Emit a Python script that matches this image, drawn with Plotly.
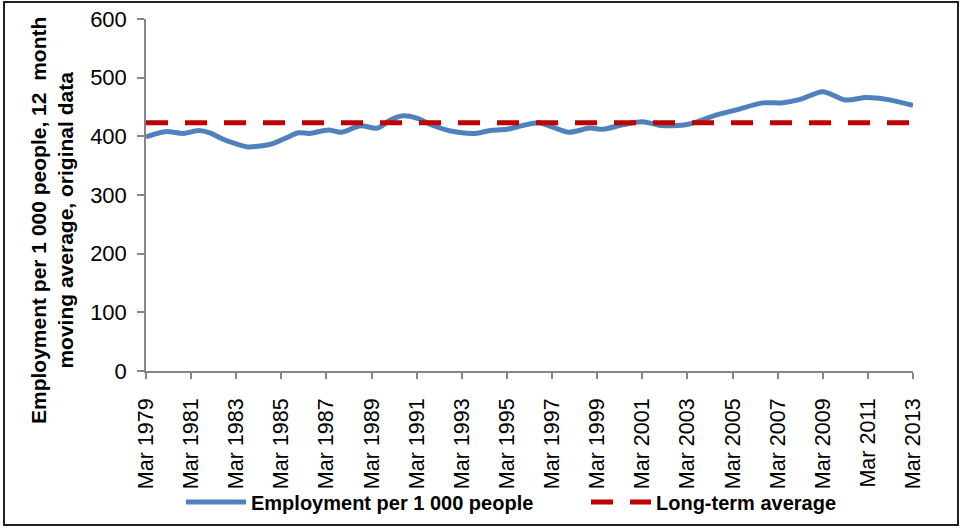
import plotly.graph_objects as go

# ---- data ----
dates = ["1979-03-01", "1980-01-01", "1980-11-01", "1981-07-01", "1982-01-01", "1982-08-01",
         "1983-03-01", "1983-09-01", "1984-05-01", "1984-10-01", "1985-06-01", "1985-12-01",
         "1986-06-01", "1987-04-01", "1987-11-01", "1988-09-01", "1989-06-01", "1990-01-01",
         "1990-08-01", "1991-03-01", "1991-12-01", "1992-09-01", "1993-10-01", "1994-06-01",
         "1995-03-01", "1995-12-01", "1996-08-01", "1997-03-01", "1997-12-01", "1998-11-01",
         "1999-06-01", "2000-05-01", "2001-03-01", "2001-12-01", "2002-07-01", "2003-04-01",
         "2004-07-01", "2005-05-01", "2006-07-01", "2007-05-01", "2008-03-01", "2009-03-01",
         "2010-03-01", "2011-02-01", "2012-01-01", "2013-03-01"]
employment = [399, 408, 405, 410, 406, 395,
              387, 382, 384, 387, 398, 406,
              405, 411, 407, 418, 414, 428,
              435, 431, 418, 409, 405, 410,
              412, 419, 423, 416, 407, 414,
              412, 420, 425, 419, 418, 421,
              437, 445, 457, 457, 463, 476,
              462, 466, 463, 453]
long_term_average = 423
tick_years = list(range(1979, 2014, 2))
tick_vals = [f"{y}-03-01" for y in tick_years]
tick_text = [f"Mar {y}" for y in tick_years]
y_title = "Employment per 1 000 people, 12  month<br>moving average, original data"

fig = go.Figure()
fig.add_trace(go.Scatter(
    x=dates, y=employment, mode="lines", name="Employment per 1 000 people",
    line=dict(color="#4F81BD", width=5, shape="spline", smoothing=0.8), legend="legend"))
fig.add_trace(go.Scatter(
    x=[dates[0], dates[-1]], y=[long_term_average, long_term_average], mode="lines",
    name="Long-term average",
    line=dict(color="#C00000", width=5, dash="22px,17px"), legend="legend2"))

W, H = 961, 528
L, R, T, B = 146, 48, 19, 157
pw, ph = W - L - R, H - T - B
FONT = "Liberation Sans, Arial, sans-serif"
leg_y = -(502 - (T + ph)) / ph
leg_common = dict(orientation="h", xanchor="left", y=leg_y, yanchor="middle",
                  font=dict(size=20, family=FONT, weight="bold"),
                  itemwidth=60, bgcolor="rgba(0,0,0,0)")

fig.update_layout(
    width=W, height=H,
    margin=dict(l=L, r=R, t=T, b=B, autoexpand=False),
    paper_bgcolor="white", plot_bgcolor="white",
    font=dict(family=FONT, color="black", size=21),
    showlegend=True,
    legend=dict(x=(181 - L) / pw, **leg_common),
    legend2=dict(x=(586 - L) / pw, **leg_common),
    xaxis=dict(type="date", range=["1979-03-01", "2013-03-01"], tickmode="array",
               tickvals=tick_vals, ticktext=tick_text, tickangle=-90, automargin=False,
               showgrid=False, zeroline=False, showline=True, linecolor="#868686", linewidth=1.5,
               ticks="outside", ticklen=6, tickcolor="#868686", tickwidth=1.5,
               ticklabelstandoff=11, tickfont=dict(size=21.5, family=FONT)),
    yaxis=dict(range=[0, 600], tickmode="array", tickvals=[0, 100, 200, 300, 400, 500, 600],
               automargin=False,
               showgrid=False, zeroline=False, showline=True, linecolor="#868686", linewidth=1.5,
               ticks="outside", ticklen=7, tickcolor="#868686", tickwidth=1.5,
               ticklabelstandoff=6, tickfont=dict(size=22, family=FONT)),
)

fig.add_annotation(text=f"<b>{y_title}</b>", xref="paper", yref="paper",
                   x=(52 - L) / pw, y=(T + ph - 221) / ph, xanchor="center", yanchor="middle",
                   textangle=-90, showarrow=False, align="center",
                   font=dict(size=21, family=FONT, color="black"))

fig.add_shape(type="rect", xref="paper", yref="paper",
              x0=(4 - L) / pw, x1=(958 - L) / pw, y0=(T + ph - 525) / ph, y1=(T + ph - 2) / ph,
              line=dict(color="#222222", width=2), fillcolor="rgba(0,0,0,0)", layer="below")

fig.write_html("out.html")
